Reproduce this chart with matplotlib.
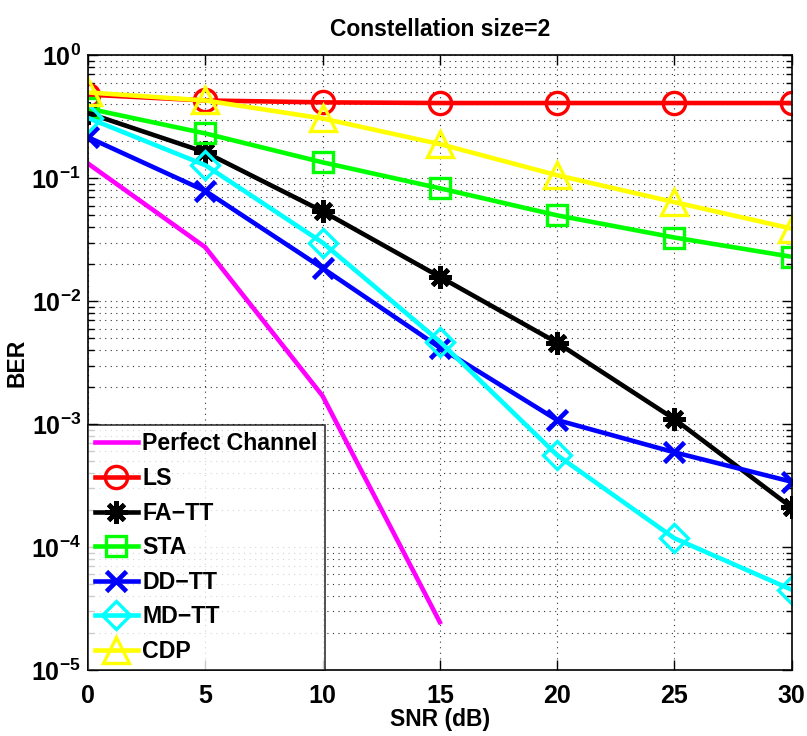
import matplotlib.pyplot as plt
import numpy as np

plt.rcParams['font.family'] = ['Liberation Sans', 'DejaVu Sans']
plt.rcParams['font.weight'] = 'bold'
plt.rcParams['mathtext.default'] = 'bf'

snr = [0, 5, 10, 15, 20, 25, 30]
snr_perfect = [0, 5, 10, 15]

ber_perfect = [0.132, 0.0275, 0.0017, 2.45e-5]
ber_ls = [0.48, 0.43, 0.415, 0.41, 0.41, 0.41, 0.41]
ber_fatt = [0.34, 0.163, 0.054, 0.0158, 0.0046, 0.0011, 2.1e-4]
ber_sta = [0.37, 0.232, 0.135, 0.083, 0.050, 0.033, 0.023]
ber_ddtt = [0.216, 0.079, 0.0186, 0.0042, 0.00108, 5.9e-4, 3.4e-4]
ber_mdtt = [0.31, 0.128, 0.030, 0.0047, 5.6e-4, 1.18e-4, 4.5e-5]
ber_cdp = [0.50, 0.43, 0.307, 0.19, 0.106, 0.064, 0.039]

fig = plt.figure(figsize=(8.07, 7.36), dpi=100)
ax = fig.add_axes([0.109, 0.0897, 0.872, 0.835])

lw = 3.3
ms = 16
mew = 2.4
ax.semilogy(snr_perfect, ber_perfect, color='#ff00ff', lw=lw, label='Perfect Channel')
ax.semilogy(snr, ber_ls, color='#ff0000', lw=lw, marker='o', ms=ms, mew=mew,
            mfc='none', label='LS')
ax.semilogy(snr, ber_fatt, color='black', lw=lw, marker=(8, 2, 0), ms=ms, mew=mew + 1,
            label='FA\u2212TT')
ax.semilogy(snr, ber_sta, color='#00ff00', lw=lw, marker='s', ms=ms - 1, mew=mew,
            mfc='none', label='STA')
ax.semilogy(snr, ber_ddtt, color='#0000ff', lw=lw, marker='x', ms=ms - 2, mew=mew + 1,
            label='DD\u2212TT')
ax.semilogy(snr, ber_mdtt, color='#00ffff', lw=lw, marker='D', ms=ms - 2, mew=mew,
            mfc='none', label='MD\u2212TT')
ax.semilogy(snr, ber_cdp, color='#ffff00', lw=lw, marker='^', ms=ms + 3, mew=mew,
            mfc='none', label='CDP')

ax.set_xlim(0, 30)
ax.set_ylim(1e-5, 1)
ax.set_xticks([0, 5, 10, 15, 20, 25, 30])
grid_style = dict(linestyle=(0, (1, 4)), color='#333333', lw=0.8)
ax.grid(True, which='major', **grid_style)
ax.grid(True, which='minor', axis='y', **grid_style)
ax.tick_params(which='both', direction='in', top=True, right=True, labelsize=18, width=1)
ax.tick_params(which='major', length=7)
ax.tick_params(which='minor', length=4)
ax.tick_params(axis='x', pad=10)
ax.tick_params(axis='y', pad=5)
for lab in ax.get_xticklabels() + ax.get_yticklabels():
    lab.set_fontweight('bold')
for spine in ax.spines.values():
    spine.set_linewidth(1.2)

ax.set_title('Constellation size=2', fontsize=16.5, fontweight='bold', pad=14)
ax.set_xlabel('SNR (dB)', fontsize=16.5, fontweight='bold', labelpad=0)
ax.set_ylabel('BER', fontsize=16.5, fontweight='bold', labelpad=2)

leg = ax.legend(loc='lower left', fontsize=16.7, frameon=True, fancybox=False,
                edgecolor='black', handlelength=1.85, handletextpad=0.2,
                borderaxespad=0, labelspacing=0.5, borderpad=0.3)
leg.get_frame().set_linewidth(1.2)
for t in leg.get_texts():
    t.set_fontweight('bold')

fig.savefig('out.png', dpi=100)
